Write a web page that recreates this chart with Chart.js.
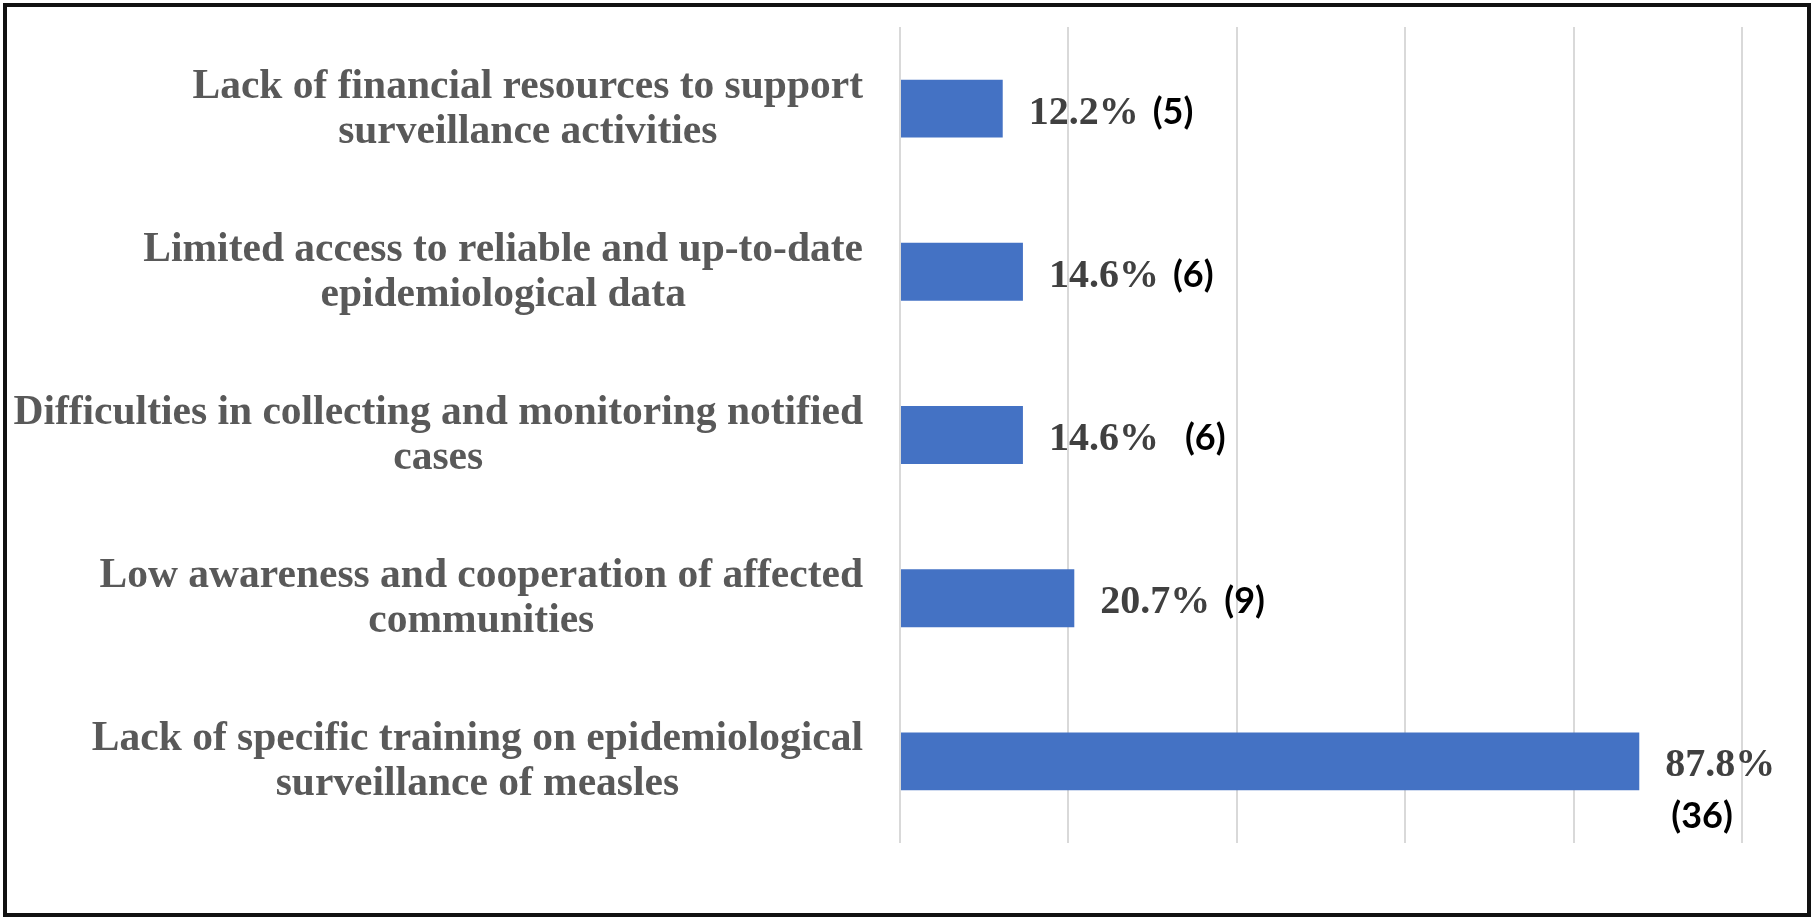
<!DOCTYPE html>
<html>
<head>
<meta charset="utf-8">
<title>Surveillance difficulties</title>
<script src="https://cdn.jsdelivr.net/npm/chart.js@4.4.1/dist/chart.umd.min.js"></script>
<style>
  html, body { margin: 0; padding: 0; background: #fff; }
  #wrap { position: relative; width: 1815px; height: 921px; }
  #frame {
    position: absolute; left: 3px; top: 3px;
    width: 1800px; height: 906px;
    border: 4px solid #111;
    pointer-events: none;
  }
  canvas { position: absolute; left: 0; top: 0; }
</style>
</head>
<body>
<div id="wrap">
  <canvas id="chart" width="1815" height="921"></canvas>
  <div id="frame"></div>
</div>
<script>
// Categories (top to bottom), each split into its printed lines
const categories = [
  ['Lack of financial resources to support', 'surveillance activities'],
  ['Limited access to reliable and up-to-date', 'epidemiological data'],
  ['Difficulties in collecting and monitoring notified', 'cases'],
  ['Low awareness and cooperation of affected', 'communities'],
  ['Lack of specific training on epidemiological', 'surveillance of measles']
];

// Share of respondents (%) and counts
const percents = [12.2, 14.6, 14.6, 20.7, 87.8];
const counts   = [5, 6, 6, 9, 36];

// Percent axis (no tick labels shown, only gridlines)
const xMin = 0;
const xMax = 100;
const xStep = 20;

const BAR_BLUE = '#4472C4';
const LABEL_FONT = 'bold 41.5px "Liberation Serif", "Times New Roman", serif';
const PCT_FONT   = 'bold 40px "Liberation Serif", "Times New Roman", serif';
const COUNT_FONT = 'bold 36px Lato, "Liberation Sans", sans-serif';

// Category labels: each block is right aligned to the axis, its lines centred
const categoryLabels = {
  id: 'categoryLabels',
  afterDraw(chart){
    const ctx = chart.ctx;
    const y = chart.scales.y;
    const right = chart.chartArea.left - 37;
    ctx.save();
    ctx.font = LABEL_FONT;
    ctx.fillStyle = '#595959';
    ctx.textAlign = 'center';
    ctx.textBaseline = 'alphabetic';
    categories.forEach((lines, i) => {
      const cy = y.getPixelForValue(i);
      const widest = Math.max(...lines.map(l => ctx.measureText(l).width));
      const cx = right - widest / 2;
      const first = cy - 11 - (lines.length - 2) * 22.5;
      lines.forEach((l, j) => ctx.fillText(l, cx, first + j * 45));
    });
    ctx.restore();
  }
};

// Value labels: "xx.x%" in serif, "(n)" in sans; wraps when it would not fit
const valueLabels = {
  id: 'valueLabels',
  afterDatasetsDraw(chart){
    const ctx = chart.ctx;
    const meta = chart.getDatasetMeta(0);
    const limit = chart.width - 30;
    ctx.save();
    ctx.textBaseline = 'alphabetic';
    ctx.textAlign = 'left';
    meta.data.forEach((bar, i) => {
      const pct = percents[i].toFixed(1) + '%';
      const cnt = '(' + counts[i] + ')';
      const x = bar.x + 26;
      const base = bar.y + 15;
      ctx.font = PCT_FONT;
      const pw = ctx.measureText(pct).width;
      ctx.fillStyle = '#404040';
      ctx.fillText(pct, x, base);
      ctx.font = COUNT_FONT;
      const cw = ctx.measureText(cnt).width;
      const gap = i === 2 ? 26 : 14;
      ctx.fillStyle = '#000';
      if (x + pw + gap + cw > limit) {
        ctx.fillText(cnt, x + 6, base + 52);
      } else {
        ctx.fillText(cnt, x + pw + gap, base);
      }
    });
    ctx.restore();
  }
};

new Chart(document.getElementById('chart'), {
  type: 'bar',
  data: {
    labels: categories,
    datasets: [{
      data: percents,
      backgroundColor: BAR_BLUE,
      borderWidth: 0,
      categoryPercentage: 1,
      barPercentage: 0.355
    }]
  },
  options: {
    indexAxis: 'y',
    responsive: false,
    animation: false,
    devicePixelRatio: 1,
    layout: { padding: { left: 900, right: 73, top: 27, bottom: 78 } },
    plugins: {
      legend: { display: false },
      tooltip: { enabled: false }
    },
    scales: {
      x: {
        min: xMin,
        max: xMax,
        ticks: { display: false, stepSize: xStep },
        grid: { color: '#d9d9d9', lineWidth: 2, drawTicks: false },
        border: { display: false }
      },
      y: {
        display: false
      }
    }
  },
  plugins: [categoryLabels, valueLabels]
});
</script>
</body>
</html>
